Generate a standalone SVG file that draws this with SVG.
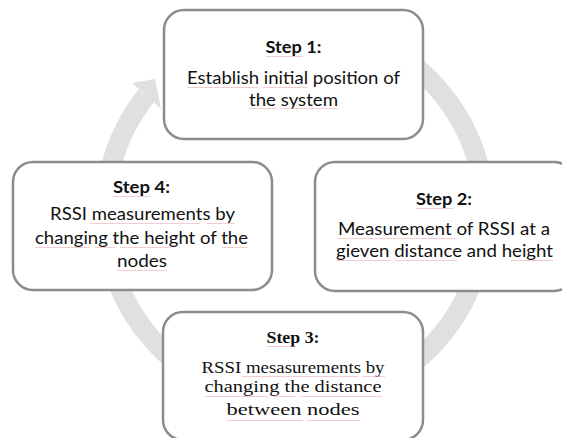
<svg xmlns="http://www.w3.org/2000/svg" width="562" height="438" viewBox="0 0 562 438">
<style>
.box{fill:#ffffff;stroke:#8c8c8c;stroke-width:2.5}
.sans{font-family:Lato,"Liberation Sans",sans-serif;font-size:17px;fill:#111111;text-anchor:middle}
.serif{font-family:"Liberation Serif","DejaVu Serif",serif;font-size:16.5px;fill:#111111;text-anchor:middle}
.b{font-weight:bold}
.sq{stroke:#f0a0a0;stroke-width:0.9;fill:none;opacity:0.6}
</style>
<rect width="562" height="438" fill="#ffffff"/>
<g id="connectors">
<path d="M 295 24 A 190 190 0 1 1 146.3 95.7" fill="none" stroke="#e0e0e0" stroke-width="20"/>
<polygon points="132,83 155,79 161,109" fill="#e0e0e0"/>
</g>
<g id="step1">
<rect class="box" x="164" y="10" width="259" height="129" rx="20"/>
<text class="sans b" x="293.5" y="53" textLength="56" lengthAdjust="spacingAndGlyphs">Step 1:</text>
<text class="sans" x="293.5" y="84" textLength="213" lengthAdjust="spacingAndGlyphs">Establish initial position of</text>
<text class="sans" x="293.5" y="106" textLength="89" lengthAdjust="spacingAndGlyphs">the system</text>
<path class="sq" d="M266 56.5H303M187 87.5H258M263 87.5H308M249 108.5H277M281 108.5H338"/>
</g>
<g id="step2">
<rect class="box" x="315" y="162" width="259" height="129" rx="20"/>
<text class="sans b" x="444" y="205" textLength="56" lengthAdjust="spacingAndGlyphs">Step 2:</text>
<text class="sans" x="444" y="235" textLength="212" lengthAdjust="spacingAndGlyphs">Measurement of RSSI at a</text>
<text class="sans" x="444.5" y="257" textLength="217" lengthAdjust="spacingAndGlyphs">gieven distance and height</text>
<path class="sq" d="M416 208.5H453M338 238.5H455M336 260.5H390M395 260.5H457M510 260.5H553"/>
</g>
<g id="step4">
<rect class="box" x="13" y="162" width="259" height="128" rx="20"/>
<text class="sans b" x="141.5" y="193" textLength="57" lengthAdjust="spacingAndGlyphs">Step 4:</text>
<text class="sans" x="142.5" y="220" textLength="185" lengthAdjust="spacingAndGlyphs">RSSI measurements by</text>
<text class="sans" x="141.5" y="243.5" textLength="213" lengthAdjust="spacingAndGlyphs">changing the height of the</text>
<text class="sans" x="142" y="267" textLength="50" lengthAdjust="spacingAndGlyphs">nodes</text>
<path class="sq" d="M113 196.5H150M90 223.5H200M207 223.5H235M35 247.5H90M95 247.5H115M120 247.5H170M222 247.5H248M117 270.5H167"/>
</g>
<g id="step3">
<rect class="box" x="163" y="312" width="260" height="128" rx="20"/>
<text class="serif b" x="293" y="343" textLength="53" lengthAdjust="spacingAndGlyphs">Step 3:</text>
<text class="serif" x="293" y="373" textLength="183" lengthAdjust="spacingAndGlyphs">RSSI mesasurements by</text>
<text class="serif" x="293" y="392" textLength="177" lengthAdjust="spacingAndGlyphs">changing the distance</text>
<text class="serif" x="293" y="415" font-size="19" textLength="133" lengthAdjust="spacingAndGlyphs">between nodes</text>
<path class="sq" d="M267 346.5H295M242 376.5H358M363 376.5H385M205 396.5H268M273 396.5H295M300 396.5H382M227 420.5H303M307 420.5H360"/>
</g>
</svg>
